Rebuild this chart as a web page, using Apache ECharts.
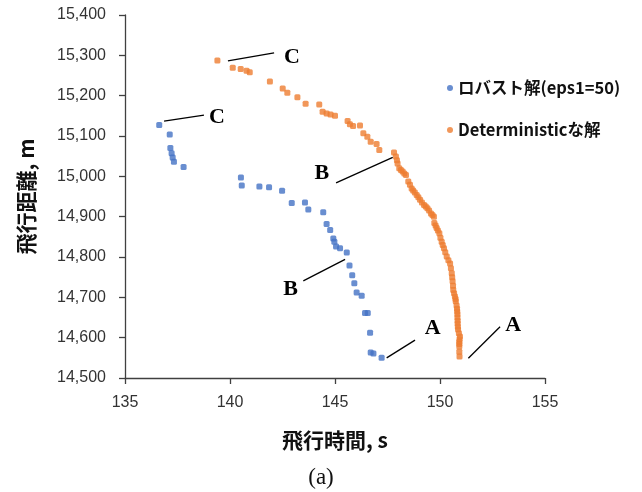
<!DOCTYPE html>
<html>
<head>
<meta charset="utf-8">
<script src="https://cdn.jsdelivr.net/npm/echarts@6/dist/echarts.min.js"></script>
<style>
  html, body { margin: 0; padding: 0; background: #fff; }
  #chart { width: 642px; height: 492px; }
</style>
</head>
<body>
<div id="chart"></div>
<script>
// Robust solution (eps1=50): flight time [s] and flight distance [m]
const robustTime = [136.63, 137.13, 137.16, 137.22, 137.27, 137.33, 137.79, 140.52, 140.56, 141.40, 141.86, 142.48,
  142.94, 143.57, 143.73, 144.44, 144.60, 144.77, 144.92, 144.97, 145.05, 145.24, 145.56, 145.69, 145.82, 145.92,
  146.03, 146.27, 146.43, 146.56, 146.67, 146.70, 146.83, 147.22];
const robustDist = [15127, 15104, 15070, 15057, 15047, 15036, 15023, 14997, 14977, 14975, 14973, 14964,
  14934, 14935, 14918, 14911, 14882, 14867, 14846, 14838, 14826, 14822, 14811, 14779, 14755, 14735,
  14712, 14704, 14661, 14661, 14612, 14563, 14561, 14550];

// Deterministic solution
const detTime = [139.40, 140.13, 140.51, 140.79, 140.94, 141.90, 142.51, 142.73, 143.21, 143.60, 144.25, 144.41,
  144.60, 144.79, 145.00, 145.60, 145.71, 145.86, 146.19, 146.35, 146.54, 146.70, 146.98, 147.11, 147.81, 147.90,
  147.95, 147.98, 148.06, 148.14, 148.22, 148.30, 148.38, 148.49, 148.57, 148.65, 148.72, 148.80, 148.89, 148.97,
  149.05, 149.14, 149.24, 149.32, 149.40, 149.48, 149.57, 149.64, 149.71, 149.73, 149.79, 149.84, 149.90, 149.97,
  150.02, 150.08, 150.13, 150.19, 150.25, 150.32, 150.40, 150.48, 150.52, 150.56, 150.58, 150.60, 150.62, 150.63,
  150.67, 150.71, 150.74, 150.75, 150.79, 150.81, 150.82, 150.83, 150.83, 150.84, 150.84, 150.85, 150.86, 150.90,
  150.95, 150.93, 150.92, 150.92, 150.92, 150.92, 150.93];
const detDist = [15287, 15269, 15266, 15262, 15258, 15235, 15218, 15207, 15196, 15180, 15178, 15160,
  15156, 15153, 15150, 15137, 15129, 15125, 15126, 15107, 15098, 15086, 15080, 15065, 15059, 15049,
  15040, 15032, 15020, 15016, 15012, 15007, 15003, 14987, 14979, 14970, 14965, 14960, 14954, 14948,
  14942, 14935, 14929, 14925, 14921, 14915, 14908, 14904, 14900, 14884, 14878, 14872, 14866, 14859,
  14848, 14838, 14830, 14822, 14812, 14801, 14792, 14784, 14772, 14760, 14750, 14740, 14729, 14718,
  14710, 14702, 14696, 14690, 14680, 14672, 14665, 14658, 14650, 14642, 14635, 14627, 14620, 14611,
  14603, 14596, 14590, 14584, 14578, 14565, 14553];

const seriesNames = ['ロバスト解(eps1=50)', 'Deterministicな解'];
const xTitle = '飛行時間, s';
const yTitle = '飛行距離, m';
const caption = '(a)';

// Leader lines [start point, end point] and label position for A / B / C
const robustNotes = [
  { text: 'C', from: [136.86, 15137], to: [138.76, 15152], at: [139.38, 15147] },
  { text: 'B', from: [145.48, 14794], to: [143.49, 14741], at: [142.89, 14720] },
  { text: 'A', from: [147.46, 14550], to: [148.81, 14594], at: [149.65, 14623] }
];
const detNotes = [
  { text: 'C', from: [139.90, 15286], to: [142.10, 15306], at: [142.95, 15296] },
  { text: 'B', from: [147.75, 15047], to: [145.05, 14984], at: [144.37, 15008] },
  { text: 'A', from: [151.35, 14549], to: [152.86, 14627], at: [153.49, 14631] }
];

const zip = (xs, ys) => xs.map((x, i) => [x, ys[i]]);
const withComma = v => String(v).replace(/\B(?=(\d{3})+(?!\d))/g, ',');

function notesMarks(notes) {
  return {
    markLine: {
      silent: true,
      symbol: 'none',
      animation: false,
      label: { show: false },
      lineStyle: { color: '#000', width: 1.3, type: 'solid' },
      emphasis: { disabled: true },
      data: notes.map(n => [{ coord: n.from }, { coord: n.to }])
    },
    markPoint: {
      silent: true,
      symbol: 'circle',
      symbolSize: 1,
      animation: false,
      itemStyle: { color: 'rgba(0,0,0,0)' },
      label: {
        show: true, position: 'inside', color: '#000',
        fontFamily: '"Liberation Serif", "DejaVu Serif", serif',
        fontWeight: 'bold', fontSize: 22,
        formatter: p => p.name
      },
      data: notes.map(n => ({ name: n.text, coord: n.at }))
    }
  };
}

const axisColor = '#404040';
const chart = echarts.init(document.getElementById('chart'), null, { renderer: 'canvas' });
chart.setOption({
  animation: false,
  backgroundColor: '#fff',
  grid: { left: 125, top: 15, width: 420, height: 363, containLabel: false },
  legend: {
    orient: 'vertical',
    left: 442,
    top: 72,
    itemWidth: 6,
    itemHeight: 6,
    itemGap: 20,
    icon: 'circle',
    textStyle: {
      fontFamily: '"Noto Sans CJK JP", "Noto Sans", sans-serif',
      fontWeight: 'bold', fontSize: 16.5, color: '#111', lineHeight: 22
    },
    data: seriesNames
  },
  xAxis: {
    type: 'value',
    min: 135, max: 155, interval: 5,
    name: xTitle,
    nameLocation: 'middle',
    nameGap: 52,
    nameTextStyle: {
      fontFamily: '"Noto Sans CJK JP", sans-serif', fontWeight: 'bold', fontSize: 21, color: '#111'
    },
    axisLine: { show: true, onZero: false, lineStyle: { color: axisColor, width: 1.3 } },
    axisTick: { show: true, length: 6, inside: false, lineStyle: { color: axisColor, width: 1.3 } },
    axisLabel: { fontFamily: '"Liberation Sans", sans-serif', fontSize: 16, color: '#333', margin: 17 },
    splitLine: { show: false }
  },
  yAxis: {
    type: 'value',
    min: 14500, max: 15400, interval: 100,
    name: yTitle,
    nameLocation: 'middle',
    nameGap: 88,
    nameRotate: 90,
    nameTextStyle: {
      fontFamily: '"Noto Sans CJK JP", sans-serif', fontWeight: 'bold', fontSize: 21, color: '#111'
    },
    axisLine: { show: true, onZero: false, lineStyle: { color: axisColor, width: 1.3 } },
    axisTick: { show: true, length: 6, inside: false, lineStyle: { color: axisColor, width: 1.3 } },
    axisLabel: { fontFamily: '"Liberation Sans", sans-serif', fontSize: 16, color: '#333', margin: 19,
      formatter: withComma },
    splitLine: { show: false }
  },
  graphic: [{
    type: 'text',
    left: 'center',
    top: 466,
    style: {
      text: caption,
      font: '23px "Liberation Serif", serif',
      fill: '#111'
    }
  }],
  series: [
    Object.assign({
      name: seriesNames[0],
      type: 'scatter',
      symbol: 'roundRect',
      symbolSize: 6,
      itemStyle: { color: '#4472C4' },
      data: zip(robustTime, robustDist)
    }, notesMarks(robustNotes)),
    Object.assign({
      name: seriesNames[1],
      type: 'scatter',
      symbol: 'roundRect',
      symbolSize: 6,
      itemStyle: { color: '#ED7D31' },
      data: zip(detTime, detDist)
    }, notesMarks(detNotes))
  ]
});
</script>
</body>
</html>
